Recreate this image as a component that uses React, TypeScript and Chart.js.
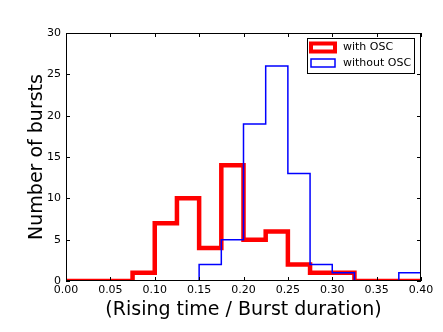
import React, { useEffect, useRef } from "react";
import { Chart, registerables } from "chart.js";

Chart.register(...registerables);

const binEdges = [0, 0.025, 0.05, 0.075, 0.1, 0.125, 0.15, 0.175, 0.2, 0.225, 0.25, 0.275, 0.3, 0.325, 0.35, 0.375, 0.4];
const withOSC = [0, 0, 0, 1, 7, 10, 4, 14, 5, 6, 2, 1, 1, 0, 0, 0];
const withoutOSC = [0, 0, 0, 0, 0, 0, 2, 5, 19, 26, 13, 2, 1, 0, 0, 1];
const seriesNames = ["with OSC", "without OSC"];
const xTitle = "(Rising time / Burst duration)";
const yTitle = "Number of bursts";

const FONT = "'DejaVu Sans', sans-serif";

function stepPoints(values: number[]) {
  const pts = values.map((v, i) => ({ x: binEdges[i], y: v }));
  pts.push({ x: binEdges[binEdges.length - 1], y: values[values.length - 1] });
  pts.push({ x: binEdges[binEdges.length - 1], y: 0 });
  return pts;
}

const framePlugin = {
  id: "frame",
  afterDraw(chart: any) {
    const { ctx, chartArea } = chart;
    const { left, right, top, bottom } = chartArea;
    const xs = chart.scales.x;
    const ys = chart.scales.y;
    ctx.save();
    ctx.strokeStyle = "#000";
    ctx.lineWidth = 1;
    ctx.strokeRect(Math.round(left) + 0.5, Math.round(top) + 0.5, Math.round(right - left) - 1, Math.round(bottom - top) - 1);
    const tl = 4;
    ctx.beginPath();
    xs.ticks.forEach((t: any) => {
      const px = Math.round(xs.getPixelForValue(t.value)) + 0.5;
      ctx.moveTo(px, bottom);
      ctx.lineTo(px, bottom - tl);
      ctx.moveTo(px, top);
      ctx.lineTo(px, top + tl);
    });
    ys.ticks.forEach((t: any) => {
      const py = Math.round(ys.getPixelForValue(t.value)) + 0.5;
      ctx.moveTo(left, py);
      ctx.lineTo(left + tl, py);
      ctx.moveTo(right, py);
      ctx.lineTo(right - tl, py);
    });
    ctx.stroke();

    // legend
    const bx = 307.5, by = 38.5, bw = 107, bh = 35;
    ctx.fillStyle = "#fff";
    ctx.fillRect(bx, by, bw, bh);
    ctx.strokeStyle = "#000";
    ctx.lineWidth = 1;
    ctx.strokeRect(bx, by, bw, bh);
    const items = [
      { name: seriesNames[0], color: "#ff0000", lw: 4, cy: 47.5 },
      { name: seriesNames[1], color: "#0000ff", lw: 1.5, cy: 63 },
    ];
    ctx.font = "11px " + FONT;
    ctx.textBaseline = "middle";
    ctx.textAlign = "left";
    items.forEach((it) => {
      ctx.strokeStyle = it.color;
      ctx.lineWidth = it.lw;
      ctx.strokeRect(311, it.cy - 4, 24, 8);
      ctx.fillStyle = "#000";
      ctx.fillText(it.name, 343, it.cy);
    });
    ctx.restore();
  },
};

export default function App() {
  const ref = useRef<HTMLCanvasElement>(null);
  useEffect(() => {
    document.body.style.margin = "0";
    Chart.defaults.color = "#000";
    Chart.defaults.font.family = FONT;
    const chart = new Chart(ref.current as HTMLCanvasElement, {
      type: "line",
      data: {
        datasets: [
          {
            label: seriesNames[1],
            data: stepPoints(withoutOSC),
            borderColor: "#0000ff",
            borderWidth: 1.5,
            pointRadius: 0,
            fill: false,
            stepped: "before",
          },
          {
            label: seriesNames[0],
            data: stepPoints(withOSC),
            borderColor: "#ff0000",
            borderWidth: 4.5,
            pointRadius: 0,
            fill: false,
            stepped: "before",
          },
        ],
      },
      options: {
        animation: false,
        responsive: false,
        events: [],
        layout: { padding: { left: 0, top: 33, right: 22, bottom: 0 } },
        plugins: { legend: { display: false }, tooltip: { enabled: false } },
        scales: {
          x: {
            type: "linear",
            min: 0,
            max: 0.4,
            grid: { display: false, drawTicks: false },
            border: { display: false },
            ticks: {
              stepSize: 0.05,
              padding: 3,
              font: { size: 11, family: FONT },
              color: "#000",
              maxRotation: 0,
              callback: (v: any) => Number(v).toFixed(2),
            },
            title: {
              display: true,
              text: xTitle,
              font: { size: 19, family: FONT },
              color: "#000",
              padding: { top: 0, bottom: 10.5 },
            },
            afterFit: (s: any) => {
              s.height = 51;
            },
          },
          y: {
            type: "linear",
            min: 0,
            max: 30,
            grid: { display: false, drawTicks: false },
            border: { display: false },
            ticks: {
              stepSize: 5,
              padding: 5,
              font: { size: 11, family: FONT },
              color: "#000",
            },
            title: {
              display: true,
              text: yTitle,
              font: { size: 19, family: FONT },
              color: "#000",
              padding: { top: 26, bottom: 0 },
            },
            afterFit: (s: any) => {
              s.width = 66;
            },
          },
        },
      },
      plugins: [framePlugin],
    });
    return () => chart.destroy();
  }, []);
  return <canvas ref={ref} width={443} height={332} style={{ display: "block" }} />;
}
